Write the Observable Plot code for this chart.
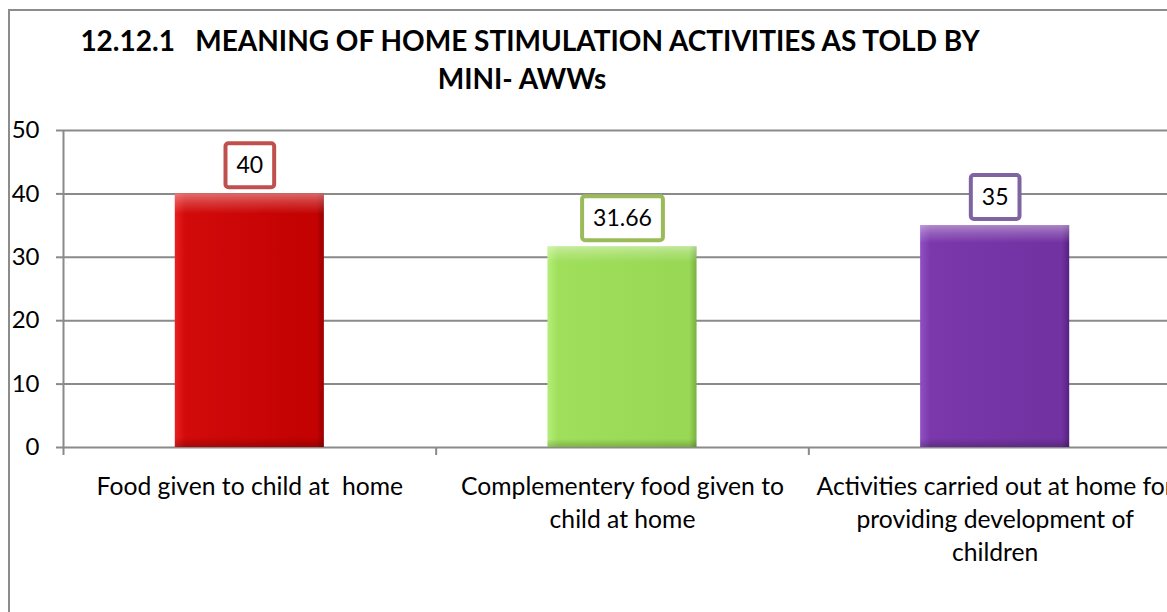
<!DOCTYPE html>
<html>
<head>
<meta charset="utf-8">
<script src="https://cdn.jsdelivr.net/npm/d3@7"></script>
<script src="https://cdn.jsdelivr.net/npm/@observablehq/plot@0.6"></script>
<style>
  html, body { margin: 0; padding: 0; background: #fff; overflow: hidden; width: 1167px; height: 612px; }
  #frame { position: absolute; left: 8px; top: 9px; width: 1300px; height: 700px;
           border-left: 2px solid #8c8c8c; border-top: 2px solid #8c8c8c; box-sizing: border-box; }
  #title { position: absolute; left: 0; width: 1060px; top: 21px; text-align: center;
           font-family: Lato, "Open Sans", sans-serif; font-weight: bold; font-size: 28px;
           line-height: 38px; color: #000; white-space: pre; }
  #title div:nth-child(2) { position: relative; left: -8px; }
  #chart { position: absolute; left: 0; top: 100px; width: 1181px; }
  #chart svg { max-width: none !important; }
</style>
</head>
<body>
<div id="frame"></div>
<div id="title"></div>
<div id="chart"></div>
<script>
const titleLines = ["12.12.1   MEANING OF HOME STIMULATION ACTIVITIES AS TOLD BY", "MINI- AWWs"];
const categories = [
  "Food given to child at  home",
  "Complementery food given to\nchild at home",
  "Activities carried out at home for\nproviding development of\nchildren"
];
const values = [40, 31.66, 35];
const valueLabels = ["40", "31.66", "35"];
const yTicks = [0, 10, 20, 30, 40, 50];
const barColors = [
  {edgeL: "#e82020", main: "#d20a0a", mainR: "#c40202", edgeR: "#9a0000", box: "#c0504d"},
  {edgeL: "#b4ee78", main: "#a0df5c", mainR: "#98d854", edgeR: "#78b044", box: "#9bbb59"},
  {edgeL: "#9050c4", main: "#7a38aa", mainR: "#7232a2", edgeR: "#552280", box: "#8064a2"}
];

const titleEl = document.getElementById("title");
titleLines.forEach(t => { const d = document.createElement("div"); d.textContent = t; titleEl.appendChild(d); });

const data = categories.map((c, i) => ({i, category: c, value: values[i], label: valueLabels[i]}));
const FONT = "Lato, 'Open Sans', sans-serif";

const plot = Plot.plot({
  width: 1181,
  height: 512,
  marginTop: 30,
  marginBottom: 165,
  marginLeft: 63,
  marginRight: 0,
  style: {fontFamily: FONT, background: "transparent", overflow: "visible", maxWidth: "none"},
  x: {domain: [0, categories.length], axis: null},
  y: {domain: [0, 50], axis: null},
  color: {type: "identity"},
  marks: [
    Plot.gridY(yTicks, {stroke: "#8a8a8a", strokeOpacity: 1, strokeWidth: 2}),
    Plot.axisY(yTicks, {label: null, tickSize: 7, tickPadding: 17, fontSize: 24, stroke: "#8a8a8a", strokeWidth: 2, color: "#000"}),
    Plot.ruleX([0], {y1: 0, y2: 50, stroke: "#8a8a8a", strokeWidth: 2}),
    Plot.axisX(d3.range(categories.length + 1), {label: null, tickSize: 8, tickFormat: () => "", stroke: "#8a8a8a", strokeWidth: 2}),
    Plot.rectY(data, {x1: d => d.i + 0.3, x2: d => d.i + 0.7, y1: 0, y2: "value", fill: d => `url(#bar${d.i})`}),
    Plot.rectY(data, {x1: d => d.i + 0.3, x2: d => d.i + 0.7, y1: 0, y2: "value", fill: "url(#shine)"}),
    Plot.text(data, {x: d => d.i + 0.5, y: "value", text: "label", dy: -28, fontSize: 23, fill: "#000", ariaLabel: "value-labels"}),
    Plot.text(data, {x: d => d.i + 0.5, y: 0, text: "category", lineAnchor: "top", dy: 24, fontSize: 24.7, lineHeight: 1.33, fill: "#000"})
  ]
});
document.getElementById("chart").appendChild(plot);

// gradient definitions for bevelled bars
const svg = d3.select(plot);
const defs = svg.insert("defs", ":first-child");
barColors.forEach((c, i) => {
  const g = defs.append("linearGradient").attr("id", `bar${i}`).attr("x1", 0).attr("x2", 1).attr("y1", 0).attr("y2", 0);
  [[0, c.edgeL], [0.07, c.main], [0.85, c.mainR], [0.95, c.mainR], [1, c.edgeR]].forEach(([o, col]) =>
    g.append("stop").attr("offset", o).attr("stop-color", col));
});
const sh = defs.append("linearGradient").attr("id", "shine").attr("x1", 0).attr("x2", 0).attr("y1", 0).attr("y2", 1);
[[0, "#fff", 0.4], [0.035, "#fff", 0.2], [0.08, "#fff", 0], [0.96, "#000", 0], [1, "#000", 0.2]].forEach(([o, col, op]) =>
  sh.append("stop").attr("offset", o).attr("stop-color", col).attr("stop-opacity", op));

// boxes around value labels
const NS = "http://www.w3.org/2000/svg";
const labelTexts = Array.from(plot.querySelectorAll("text")).filter(t =>
  valueLabels.includes(t.textContent) && !t.closest('[aria-label*="tick"]') && !t.closest('[aria-label*="axis"]'));
labelTexts.forEach(t => {
  const k = valueLabels.indexOf(t.textContent);
  const b = t.getBBox();
  const cx = b.x + b.width / 2, cy = b.y + b.height / 2;
  const w = b.width + 22, h = 44;
  const r = document.createElementNS(NS, "rect");
  r.setAttribute("x", cx - w / 2);
  r.setAttribute("y", cy - h / 2 + 1);
  r.setAttribute("width", w);
  r.setAttribute("height", h);
  r.setAttribute("rx", 3);
  r.setAttribute("fill", "#fff");
  r.setAttribute("stroke", barColors[k].box);
  r.setAttribute("stroke-width", 4);
  const tr = t.getAttribute("transform");
  if (tr) r.setAttribute("transform", tr);
  t.parentNode.insertBefore(r, t);
});
</script>
</body>
</html>
